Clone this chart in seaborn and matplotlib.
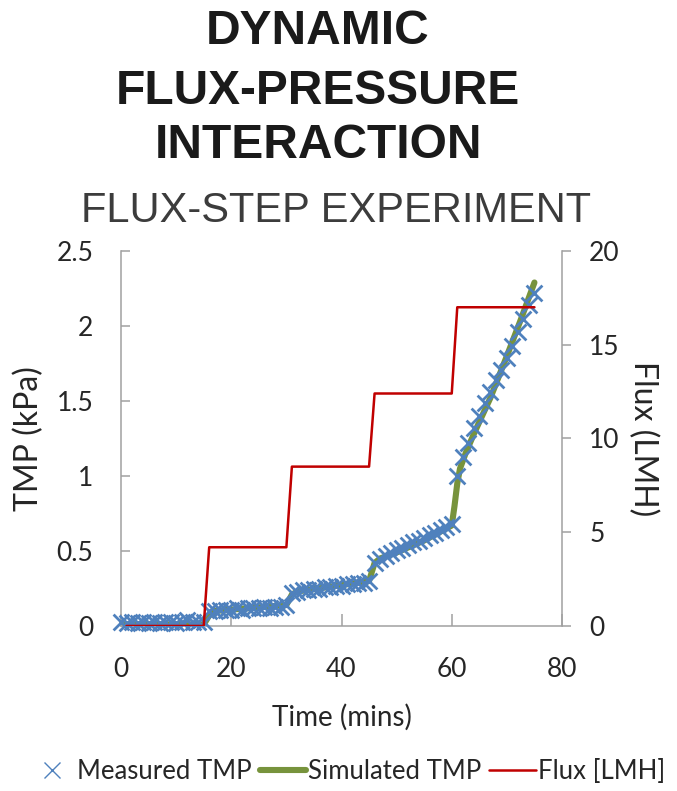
import matplotlib
matplotlib.use("Agg")
import matplotlib.pyplot as plt
from matplotlib.lines import Line2D
import seaborn as sns
import pandas as pd

# ---------------- data ----------------
title_lines = ["DYNAMIC", "FLUX-PRESSURE", "INTERACTION"]
subtitle = "FLUX-STEP EXPERIMENT"

measured_time = list(range(0, 76))
measured_tmp = [
    0.03, 0.02, 0.03, 0.02, 0.03, 0.02, 0.03, 0.02, 0.03, 0.03, 0.02, 0.03, 0.04, 0.03, 0.03, 0.03,
    0.10, 0.10, 0.11, 0.11, 0.11, 0.12, 0.11, 0.12, 0.12, 0.12, 0.13, 0.12, 0.13, 0.13, 0.14,
    0.22, 0.23, 0.24, 0.24, 0.25, 0.25, 0.26, 0.26, 0.27, 0.27, 0.28, 0.28, 0.29, 0.29, 0.30,
    0.42, 0.45, 0.47, 0.49, 0.51, 0.52, 0.54, 0.56, 0.57, 0.59, 0.61, 0.62, 0.64, 0.66, 0.68,
    1.00, 1.13, 1.22, 1.32, 1.40, 1.49, 1.56, 1.64, 1.71, 1.79, 1.87, 1.96, 2.05, 2.14, 2.22,
]

sim_time = [0, 15, 16, 17, 30, 31, 32, 45, 46, 47, 50, 55, 60, 60.5, 61, 61.5, 62.5, 64, 67, 70, 72.5, 75]
sim_tmp = [0.01, 0.01, 0.07, 0.10, 0.14, 0.21, 0.23, 0.30, 0.42, 0.45, 0.49, 0.57, 0.67, 0.80, 0.95,
           1.05, 1.15, 1.28, 1.52, 1.80, 2.04, 2.29]

flux_time = [1, 15, 16, 30, 31, 45, 46, 60, 61, 75]
flux_lmh = [0, 0, 4.2, 4.2, 8.5, 8.5, 12.4, 12.4, 17.0, 17.0]

x_ticks = [0, 20, 40, 60, 80]
tmp_ticks = [0, 0.5, 1, 1.5, 2, 2.5]
tmp_tick_labels = ["0", "0.5", "1", "1.5", "2", "2.5"]
flux_ticks = [0, 5, 10, 15, 20]

legend_labels = ["Measured TMP", "Simulated TMP", "Flux [LMH]"]

# ---------------- style ----------------
sns.set_theme(style="white")
plt.rcParams["font.family"] = ["Lato", "DejaVu Sans"]

C_MEAS = "#4F81BD"
C_SIM = "#77933C"
C_FLUX = "#C00000"
C_AX = "#A0A0A0"
FS = 19

fig = plt.figure(figsize=(6.77, 7.91), dpi=100)
ax = fig.add_axes([121 / 677, 165 / 791, 441 / 677, 375 / 791])
ax2 = ax.twinx()

meas_df = pd.DataFrame({"t": measured_time, "v": measured_tmp})
sim_df = pd.DataFrame({"t": sim_time, "v": sim_tmp})
flux_df = pd.DataFrame({"t": flux_time, "v": flux_lmh})

sns.lineplot(data=sim_df, x="t", y="v", ax=ax, color=C_SIM, linewidth=4.4,
             estimator=None, sort=False, zorder=2, solid_capstyle="round", solid_joinstyle="round")
sns.scatterplot(data=meas_df, x="t", y="v", ax=ax, marker="x", s=130, color=C_MEAS,
                linewidth=2.0, zorder=3, clip_on=False)
sns.lineplot(data=flux_df, x="t", y="v", ax=ax2, color=C_FLUX, linewidth=1.8,
             estimator=None, sort=False, zorder=4)

ax.set_xlim(0, 80)
ax.set_ylim(0, 2.5)
ax2.set_ylim(0, 20)
ax.set_xticks(x_ticks)
ax.set_xticklabels([str(v) for v in x_ticks])
ax.set_yticks(tmp_ticks)
ax.set_yticklabels(tmp_tick_labels)
ax2.set_yticks(flux_ticks)
ax2.set_yticklabels([str(v) for v in flux_ticks])

for a in (ax, ax2):
    for s in a.spines.values():
        s.set_color(C_AX)
        s.set_linewidth(1.1)
    a.spines["top"].set_visible(False)
ax.spines["right"].set_visible(False)
ax2.spines["left"].set_visible(False)
ax2.spines["bottom"].set_visible(False)

ax.tick_params(axis="y", direction="in", length=6.5, width=1.1, color=C_AX,
               labelsize=FS, pad=20, left=True)
ax.tick_params(axis="x", direction="in", length=8.5, width=1.1, color=C_AX,
               labelsize=FS, pad=22, bottom=True)
ax2.tick_params(axis="y", direction="out", length=6.5, width=1.1, color=C_AX,
                labelsize=FS, pad=13, right=True)

ax.set_xlabel("Time (mins)", fontsize=20, labelpad=16)
ax.set_ylabel("TMP (kPa)", fontsize=23, labelpad=9)
ax2.set_ylabel("Flux (LMH)", fontsize=23, rotation=270, labelpad=28)

# titles
ys = [31, 92, 146]
for line, y in zip(title_lines, ys):
    fig.text(318 / 677, 1 - y / 791, line, ha="center", va="center",
             fontsize=34.5, fontweight="bold", color="#1a1a1a",
             family=["Liberation Sans", "DejaVu Sans"])
fig.text(336 / 677, 1 - 211 / 791, subtitle, ha="center", va="center",
         fontsize=30, color="#3c3c3c", family=["Liberation Sans", "DejaVu Sans"])

handles = [
    Line2D([], [], linestyle="none", marker="x", markersize=11, markeredgewidth=1.0, color=C_MEAS),
    Line2D([], [], color=C_SIM, linewidth=4.4),
    Line2D([], [], color=C_FLUX, linewidth=1.8),
]
fig.legend(handles, legend_labels, loc="center", bbox_to_anchor=(347 / 677, 16 / 791 + 0.004),
           ncol=3, frameon=False, fontsize=18.5, handlelength=1.8, handletextpad=0.1,
           columnspacing=0.3, borderaxespad=0, borderpad=0)

fig.savefig("out.png", dpi=100)
